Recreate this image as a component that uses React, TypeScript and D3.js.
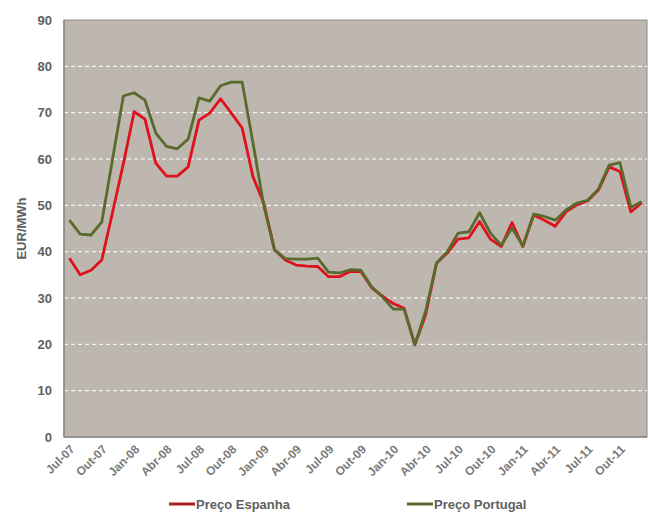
import React from "react";
import * as d3 from "d3";

const months = [
  "Jul-07","Ago-07","Set-07","Out-07","Nov-07","Dez-07",
  "Jan-08","Fev-08","Mar-08","Abr-08","Mai-08","Jun-08",
  "Jul-08","Ago-08","Set-08","Out-08","Nov-08","Dez-08",
  "Jan-09","Fev-09","Mar-09","Abr-09","Mai-09","Jun-09",
  "Jul-09","Ago-09","Set-09","Out-09","Nov-09","Dez-09",
  "Jan-10","Fev-10","Mar-10","Abr-10","Mai-10","Jun-10",
  "Jul-10","Ago-10","Set-10","Out-10","Nov-10","Dez-10",
  "Jan-11","Fev-11","Mar-11","Abr-11","Mai-11","Jun-11",
  "Jul-11","Ago-11","Set-11","Out-11","Nov-11","Dez-11",
];

const precoEspanha = [
  38.6, 35.0, 36.0, 38.2, 48.5, 59.0,
  70.2, 68.6, 59.1, 56.3, 56.3, 58.3,
  68.4, 69.9, 73.0, 69.9, 66.7, 56.2,
  50.5, 40.4, 38.2, 37.1, 36.9, 36.8,
  34.6, 34.6, 35.7, 35.7, 32.2, 30.4,
  28.8, 27.8, 19.9, 26.4, 37.5, 39.7,
  42.7, 43.0, 46.5, 42.7, 41.1, 46.3,
  41.1, 47.9, 46.8, 45.5, 48.6, 50.1,
  51.0, 53.3, 58.3, 57.3, 48.6, 50.5,
];

const precoPortugal = [
  46.8, 43.8, 43.6, 46.4, 60.0, 73.6,
  74.3, 72.7, 65.6, 62.7, 62.2, 64.3,
  73.2, 72.5, 75.8, 76.6, 76.6, 63.5,
  50.0, 40.4, 38.5, 38.4, 38.4, 38.6,
  35.6, 35.4, 36.1, 36.0, 32.4, 30.2,
  27.6, 27.6, 19.9, 27.2, 37.5, 40.0,
  44.0, 44.3, 48.4, 44.0, 41.4, 45.1,
  41.2, 48.1, 47.6, 46.8, 49.0, 50.5,
  51.1, 53.5, 58.7, 59.2, 49.6, 50.8,
];

const yTicks = [0, 10, 20, 30, 40, 50, 60, 70, 80, 90];
const xTickLabels = [
  "Jul-07","Out-07","Jan-08","Abr-08","Jul-08","Out-08","Jan-09","Abr-09","Jul-09",
  "Out-09","Jan-10","Abr-10","Jul-10","Out-10","Jan-11","Abr-11","Jul-11","Out-11",
];

const W = 648, H = 514;
const L = 64, R = 647, T = 20, B = 437;
const RED = "#e0101c";
const GREEN = "#586b2c";
const TXT = "#5f5f5f";

export default function App() {
  const x = d3.scaleBand<string>().domain(months).range([L, R]);
  const cx = (i: number) => (x(months[i]) as number) + x.bandwidth() / 2;
  const y = d3.scaleLinear().domain([0, 90]).range([B, T]);
  const line = d3.line<number>().x((_, i) => cx(i)).y((d) => y(d));
  const font = "Arial, 'Liberation Sans', sans-serif";

  return (
    <svg width={W} height={H} style={{ position: "absolute", left: 0, top: 0 }} fontFamily={font}>
      <rect x={0} y={0} width={W} height={H} fill="#ffffff" />
      <rect x={L} y={T} width={R - L} height={B - T} fill="#bdb7b0" stroke="#8f8b86" strokeWidth={1} />
      {yTicks.filter((t) => t > 0 && t < 90).map((t) => (
        <line key={t} x1={L} x2={R} y1={y(t)} y2={y(t)} stroke="#ffffff" strokeWidth={1} strokeDasharray="4,3" />
      ))}
      <line x1={L} x2={R} y1={B} y2={B} stroke="#8a8783" strokeWidth={1.5} />
      <line x1={L} x2={L} y1={T} y2={B} stroke="#8a8783" strokeWidth={1.5} />
      {yTicks.map((t) => (
        <text key={t} x={52} y={y(t) + 4.5} textAnchor="end" fontSize={13} fontWeight="bold" fill={TXT}>
          {t}
        </text>
      ))}
      <text transform={`translate(26,${(T + B) / 2}) rotate(-90)`} textAnchor="middle" fontSize={13} fontWeight="bold" fill={TXT}>
        EUR/MWh
      </text>
      {xTickLabels.map((m) => {
        const i = months.indexOf(m);
        const px = cx(i) + 3;
        const py = B + 10;
        return (
          <text key={m} transform={`translate(${px},${py}) rotate(-45)`} textAnchor="end" dy="0.35em" fontSize={12} fontWeight="bold" fill="#7a7a7a">
            {m}
          </text>
        );
      })}
      <path d={line(precoEspanha) || ""} fill="none" stroke={RED} strokeWidth={2.8} strokeLinejoin="round" />
      <path d={line(precoPortugal) || ""} fill="none" stroke={GREEN} strokeWidth={2.8} strokeLinejoin="round" />
      <line x1={169} x2={195} y1={504} y2={504} stroke="#b01c22" strokeWidth={3} />
      <text x={196} y={509} fontSize={13} fontWeight="bold" fill={TXT}>Preço Espanha</text>
      <line x1={407} x2={433} y1={504} y2={504} stroke={GREEN} strokeWidth={3} />
      <text x={434} y={509} fontSize={13} fontWeight="bold" fill={TXT}>Preço Portugal</text>
    </svg>
  );
}
